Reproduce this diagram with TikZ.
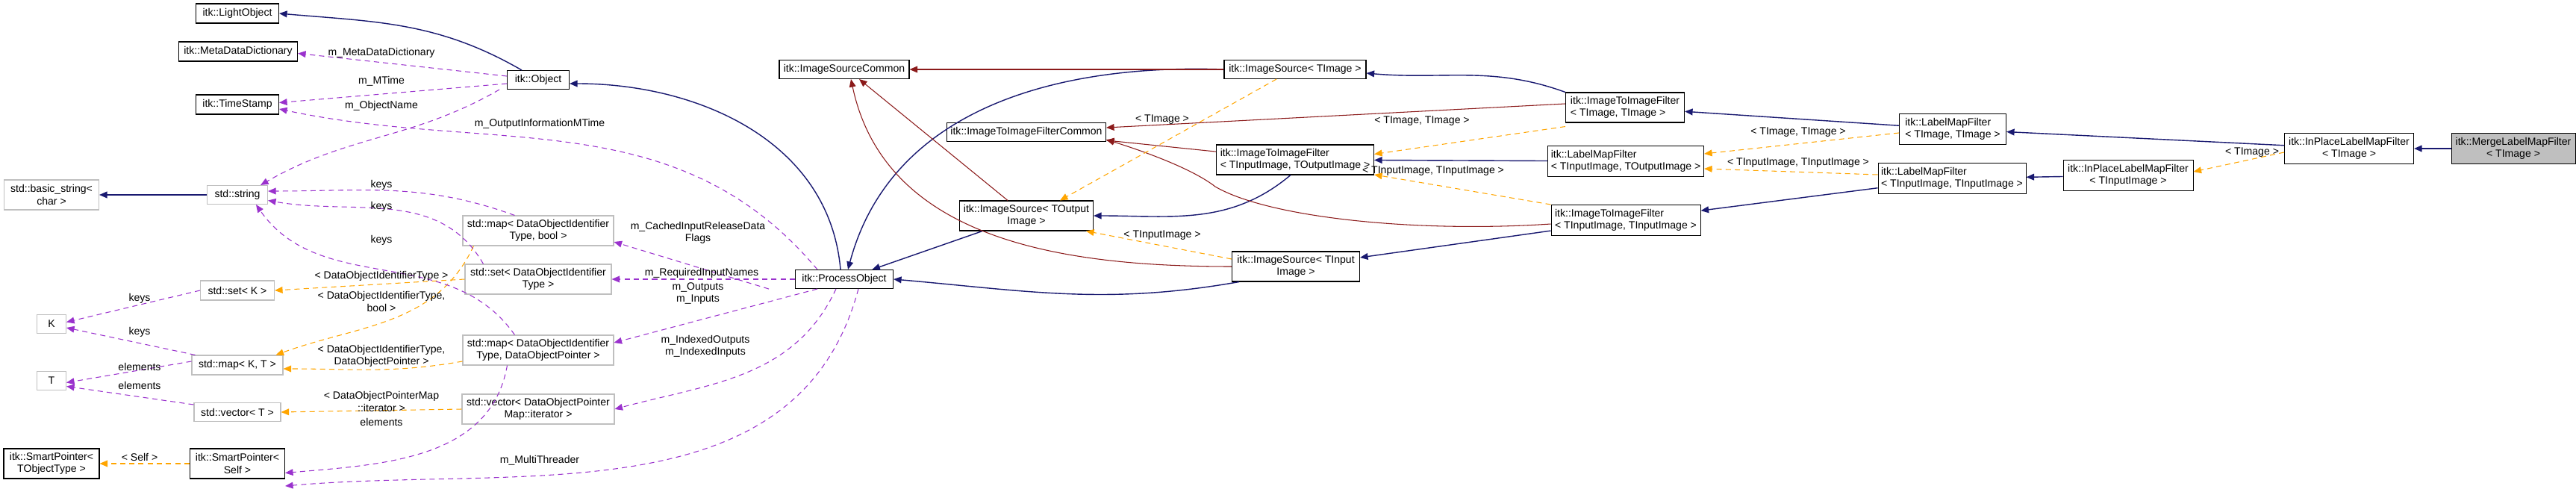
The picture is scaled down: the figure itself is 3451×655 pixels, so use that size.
\documentclass[tikz,border=0pt]{standalone}
\usepackage{fontspec}
\setmainfont{Liberation Sans}
\usetikzlibrary{arrows.meta}
\definecolor{inhblue}{HTML}{191970}
\definecolor{protred}{HTML}{8B1A1A}
\definecolor{memviolet}{HTML}{9A32CD}
\definecolor{tmplorange}{HTML}{FFA500}
\definecolor{stdgray}{HTML}{BFBFBF}
\tikzset{
  box/.style 2 args={minimum width=#1*0.02cm, minimum height=#2*0.02cm},
  cls/.style={draw=black, line width=0.6pt, fill=white, inner sep=1pt, align=center,
    font=\fontsize{8}{9.5}\selectfont},
  ext/.style={cls, draw=stdgray, line width=0.6pt},
  lbl/.style={inner sep=0pt, align=center, font=\fontsize{8}{9.5}\selectfont},
  inh/.style={->, inhblue, line width=0.8pt},
  prot/.style={->, protred, line width=0.6pt},
  mem/.style={->, memviolet, line width=0.6pt, dash pattern=on 4pt off 3pt},
  tmpl/.style={->, tmplorange, line width=0.6pt, dash pattern=on 4pt off 3pt},
}
\begin{document}
\begin{tikzpicture}[x=0.02cm,y=-0.02cm,>={Triangle[length=6pt,width=5pt]}]
\useasboundingbox (0,0) rectangle (3451,655);

% left column
\node[cls, box={111}{26}] (lightobj) at (318,18) {itk::LightObject};
\node[cls, box={159}{26}] (metadict) at (319,69) {itk::MetaDataDictionary};
\node[cls, box={111}{26}] (timestamp) at (318,140) {itk::TimeStamp};
\node[cls, box={83}{25}] (object) at (721,107) {itk::Object};
\node[ext, box={127}{40}] (basicstr) at (69,261) {std::basic\_string<\\ char >};
\node[ext, box={81}{25}] (stdstr) at (318,261) {std::string};
\node[ext, box={202}{40}] (mapbool) at (721,309) {std::map< DataObjectIdentifier\\ Type, bool >};
\node[ext, box={196}{40}] (setdoi) at (721,374) {std::set< DataObjectIdentifier\\ Type >};
\node[ext, box={99}{26}] (setk) at (318,389) {std::set< K >};
\node[ext, box={39}{25}] (K) at (69,434) {K};
\node[ext, box={202}{40}] (mapdop) at (721,469) {std::map< DataObjectIdentifier\\ Type, DataObjectPointer >};
\node[ext, box={122}{26}] (mapkt) at (318,489) {std::map< K, T >};
\node[ext, box={39}{25}] (T) at (69,510) {T};
\node[ext, box={116}{25}] (vect) at (318,552) {std::vector< T >};
\node[ext, box={204}{40}] (vecdop) at (721,548) {std::vector< DataObjectPointer\\ Map::iterator >};
\node[cls, box={128}{40}] (sptobj) at (69,621) {itk::SmartPointer<\\ TObjectType >};
\node[cls, box={127}{40}] (spself) at (318,621) {itk::SmartPointer<\\ Self >};

% middle
\node[cls, box={131}{25}] (procobj) at (1131,374) {itk::ProcessObject};
\node[cls, box={174}{25}] (iscommon) at (1131,93) {itk::ImageSourceCommon};
\node[cls, box={190}{25}] (isimage) at (1735,93) {itk::ImageSource< TImage >};
\node[cls, box={213}{25}] (i2icommon) at (1375,177) {itk::ImageToImageFilterCommon};
\node[cls, box={211}{40}, align=left] (i2ioutin) at (1735,214) {itk::ImageToImageFilter\\ < TInputImage, TOutputImage >};
\node[cls, box={179}{40}] (isout) at (1375,289) {itk::ImageSource< TOutput\\ Image >};
\node[cls, box={171}{40}] (isin) at (1736,357) {itk::ImageSource< TInput\\ Image >};

% right
\node[cls, box={159}{40}, align=left] (i2iimg) at (2177,144) {itk::ImageToImageFilter\\ < TImage, TImage >};
\node[cls, box={209}{41}, align=left] (lmfoutin) at (2178,216) {itk::LabelMapFilter\\ < TInputImage, TOutputImage >};
\node[cls, box={200}{41}, align=left] (i2iinin) at (2178,295) {itk::ImageToImageFilter\\ < TInputImage, TInputImage >};
\node[cls, box={143}{41}, align=left] (lmfimg) at (2616,173) {itk::LabelMapFilter\\ < TImage, TImage >};
\node[cls, box={198}{41}, align=left] (lmfinin) at (2615,239) {itk::LabelMapFilter\\ < TInputImage, TInputImage >};
\node[cls, box={174}{41}] (iplin) at (2851,235) {itk::InPlaceLabelMapFilter\\ < TInputImage >};
\node[cls, box={173}{41}] (iplimg) at (3147,199) {itk::InPlaceLabelMapFilter\\ < TImage >};
\node[cls, box={166}{41}, fill=stdgray] (merge) at (3367,199) {itk::MergeLabelMapFilter\\ < TImage >};

% public inheritance
\foreach \a/\b in {stdstr/basicstr, isout/procobj, lmfoutin/i2ioutin, i2iinin/isin,
  lmfimg/i2iimg, lmfinin/i2iinin, iplin/lmfinin, iplimg/lmfimg, merge/iplimg}
  \draw[inh] (\a) -- (\b);
\draw[inh] (object.north west) ++(20,0) to[out=150,in=-5] (lightobj.east);
\draw[inh] (procobj.north) ++(-5,0) to[out=95,in=0] ([yshift=-0.1cm]object.east);
\draw[inh] (isimage.west) to[out=178,in=75] ([xshift=0.1cm]procobj.north);
\draw[inh] ([xshift=0.2cm]isin.south west) to[out=190,in=-5] (procobj.east);
\draw[inh] ([xshift=2cm]i2ioutin.south west) to[out=-140,in=0] (isout.east);
\draw[inh] (i2iimg.north west) to[out=160,in=-5] ([yshift=-0.1cm]isimage.east);

% protected inheritance
\foreach \a/\b in {isimage/iscommon, i2ioutin/i2icommon}
  \draw[prot] (\a) -- (\b);
\draw[prot] (isout.north) ++(-25,0) -- ([xshift=0.4cm]iscommon.south);
\draw[prot] (isin.west) to[out=180,in=-78] ([xshift=0.18cm]iscommon.south);
\draw[prot] ([yshift=0.1cm]i2iimg.west) -- ([yshift=0.12cm]i2icommon.east);
\draw[prot] ([yshift=-0.1cm]i2iinin.west) .. controls (1900,312) and (1700,292) .. (1628,250)
  .. controls (1600,228) and (1540,205) .. ([yshift=-0.2cm]i2icommon.east);

% template instances
\draw[tmpl] ([xshift=-0.5cm]isimage.south) -- ([xshift=0.9cm]isout.north);
\draw[tmpl] ([yshift=0.2cm]isin.west) -- ([xshift=-0.2cm]isout.south east);
\draw[tmpl] ([yshift=-0.1cm]i2iimg.south west) -- ([yshift=0.15cm]i2ioutin.east);
\draw[tmpl] (i2iinin.north west) -- ([yshift=-0.4cm]i2ioutin.east);
\draw[tmpl] ([yshift=-0.1cm]lmfimg.west) -- ([yshift=0.2cm]lmfoutin.east);
\draw[tmpl] ([yshift=0.1cm]lmfinin.west) -- ([yshift=-0.2cm]lmfoutin.east);
\draw[tmpl] ([yshift=-0.1cm]iplimg.west) -- ([yshift=0.1cm]iplin.east);
\draw[tmpl] (setdoi.west) -- (setk.east);
\draw[tmpl] ([xshift=0.3cm]mapbool.south west) to[out=-115,in=20] ([xshift=-0.2cm]mapkt.north east);
\draw[tmpl] ([yshift=-0.3cm]mapdop.west) to[out=190,in=0] ([yshift=-0.1cm]mapkt.east);
\draw[tmpl] (vecdop.west) -- (vect.east);
\draw[tmpl] (spself.west) -- (sptobj.east);

% members
\draw[mem] ([yshift=0.1cm]object.west) -- ([yshift=-0.05cm]metadict.east);
\draw[mem] ([yshift=-0.1cm]object.west) -- ([yshift=0.05cm]timestamp.east);
\draw[mem] ([xshift=-0.2cm]object.south west) to[out=-150,in=30] ([xshift=-0.2cm]stdstr.north east);
\draw[mem] ([xshift=0.6cm]procobj.north west) to[out=130,in=-12] ([yshift=-0.12cm]timestamp.east);
\draw[mem] ([xshift=1.4cm]mapbool.north west) to[out=160,in=0] ([yshift=0.1cm]stdstr.east);
\draw[mem] ([xshift=0.5cm]setdoi.north west) to[out=120,in=-10] ([yshift=-0.15cm]stdstr.east);
\draw[mem] ([xshift=1.4cm]mapdop.north west) to[out=125,in=-55] ([xshift=0.5cm]stdstr.south);
\draw[mem] (setk.west) -- ([yshift=0.05cm]K.east);
\draw[mem] ([xshift=0.1cm]mapkt.north west) -- ([yshift=-0.1cm]K.east);
\draw[mem] ([yshift=0.1cm]mapkt.west) -- ([yshift=-0.05cm]T.east);
\draw[mem] ([yshift=0.2cm]vect.west) -- ([yshift=-0.15cm]T.east);
\draw[mem] ([xshift=1.2cm]mapdop.south west) to[out=-100,in=5] ([yshift=-0.25cm]spself.east);
\draw[mem] ([xshift=-0.7cm]procobj.south west) ++(0,0) -- ([yshift=-0.3cm]mapbool.east) ;
\draw[mem] (procobj.west) -- (setdoi.east);
\draw[mem] ([xshift=0.6cm]procobj.south west) -- ([yshift=0.2cm]mapdop.east);
\draw[mem] ([xshift=1.1cm]procobj.south west) to[out=-115,in=15] (vecdop.east);
\draw[mem] ([xshift=1.7cm]procobj.south west) to[out=-105,in=5] ([yshift=-0.6cm]spself.east);

% labels
\node[lbl] (l1) at (511,71) {m\_MetaDataDictionary};
\node[lbl] (l2) at (511,109) {m\_MTime};
\node[lbl] (l3) at (511,142) {m\_ObjectName};
\node[lbl] (l4) at (723,166) {m\_OutputInformationMTime};
\node[lbl] (l5) at (511,248) {keys};
\node[lbl] (l6) at (511,277) {keys};
\node[lbl] (l7) at (511,322) {keys};
\node[lbl] (l8) at (511,370) {< DataObjectIdentifierType >};
\node[lbl] (l9) at (511,404) {< DataObjectIdentifierType,\\ bool >};
\node[lbl] (l10) at (511,477) {< DataObjectIdentifierType,\\ DataObjectPointer >};
\node[lbl] (l11) at (511,538) {< DataObjectPointerMap\\ ::iterator >};
\node[lbl] (l12) at (511,565) {elements};
\node[lbl] (l13) at (187,400) {keys};
\node[lbl] (l14) at (187,445) {keys};
\node[lbl] (l15) at (187,491) {elements};
\node[lbl] (l16) at (187,516) {elements};
\node[lbl] (l17) at (187,612) {< Self >};
\node[lbl] (l18) at (723,617) {m\_MultiThreader};
\node[lbl] (l19) at (935,312) {m\_CachedInputReleaseData\\ Flags};
\node[lbl] (l20) at (940,366) {m\_RequiredInputNames};
\node[lbl] (l21) at (935,393) {m\_Outputs\\ m\_Inputs};
\node[lbl] (l22) at (945,464) {m\_IndexedOutputs\\ m\_IndexedInputs};
\node[lbl] (l23) at (1557,160) {< TImage >};
\node[lbl] (l24) at (1557,315) {< TInputImage >};
\node[lbl] (l25) at (1905,162) {< TImage, TImage >};
\node[lbl] (l26) at (1920,229) {< TInputImage, TInputImage >};
\node[lbl] (l27) at (2409,177) {< TImage, TImage >};
\node[lbl] (l28) at (2409,218) {< TInputImage, TInputImage >};
\node[lbl] (l29) at (3017,204) {< TImage >};
\end{tikzpicture}
\end{document}
